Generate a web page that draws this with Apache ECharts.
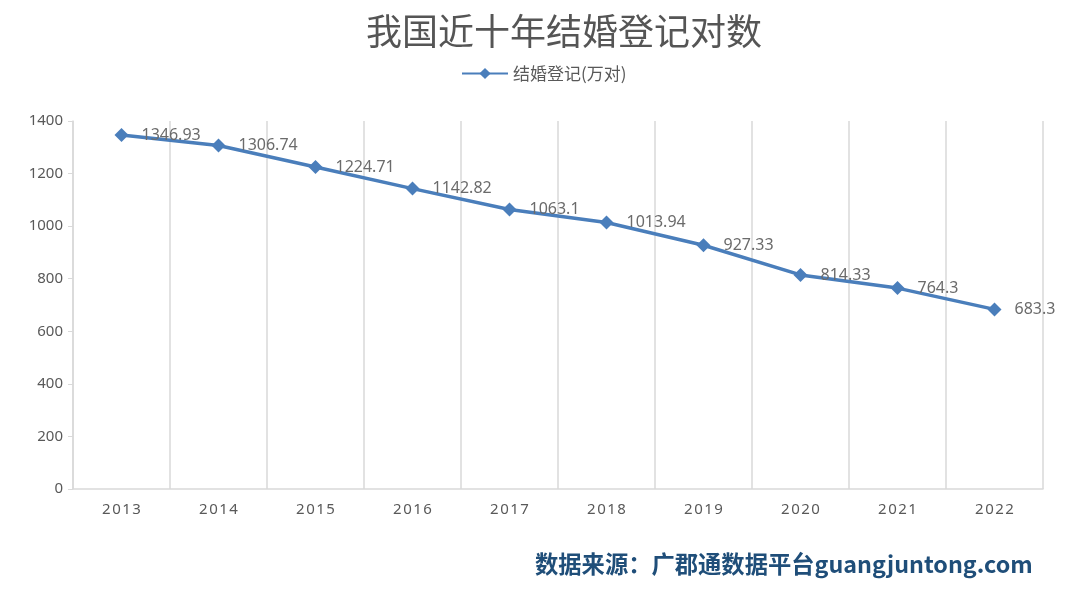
<!DOCTYPE html>
<html><head><meta charset="utf-8">
<script src="https://cdn.jsdelivr.net/npm/echarts@6/dist/echarts.min.js"></script>
<style>html,body{margin:0;padding:0;background:#fff}#c{width:1080px;height:596px}</style>
</head><body><div id="c"></div>
<script>
const categories = ['2013','2014','2015','2016','2017','2018','2019','2020','2021','2022'];
const marriages = [1346.93, 1306.74, 1224.71, 1142.82, 1063.1, 1013.94, 927.33, 814.33, 764.3, 683.3];
const labels = ['1346.93','1306.74','1224.71','1142.82','1063.1','1013.94','927.33','814.33','764.3','683.3'];
const seriesName = '结婚登记(万对)';
const chart = echarts.init(document.getElementById('c'));
chart.setOption({
  backgroundColor: '#fff',
  title: {
    text: '我国近十年结婚登记对数', left: 361, top: 8,
    textStyle: {fontFamily: 'Noto Sans CJK SC', fontSize: 36, fontWeight: 'normal', color: '#555555'}
  },
  legend: {
    top: 60, left: 456, data: [seriesName], itemWidth: 46, itemHeight: 14, itemGap: 6,
    textStyle: {fontFamily: 'Noto Sans CJK SC', fontSize: 17, color: '#595959'}
  },
  grid: {left: 73, right: 37, top: 121, bottom: 107, containLabel: false},
  xAxis: {
    type: 'category', data: categories, boundaryGap: true,
    axisLine: {lineStyle: {color: '#d9d9d9', width: 1.5}},
    axisTick: {show: false},
    splitLine: {show: true, lineStyle: {color: '#d9d9d9', width: 1.5}},
    axisLabel: {fontFamily: 'Noto Sans', fontSize: 15, color: '#595959', margin: 13,
      formatter: v => v.split('').join('\u200a')}
  },
  yAxis: {
    type: 'value', min: 0, max: 1400, interval: 200,
    axisLine: {show: true, lineStyle: {color: '#d9d9d9', width: 1.5}},
    axisTick: {show: true, length: 5, lineStyle: {color: '#d9d9d9'}},
    splitLine: {show: false},
    axisLabel: {fontFamily: 'Noto Sans', fontSize: 15, color: '#595959', margin: 10,
      formatter: v => String(v)}
  },
  series: [{
    name: seriesName, type: 'line', data: marriages,
    symbol: 'diamond', symbolSize: 14,
    lineStyle: {color: '#4a7ebb', width: 3.5},
    itemStyle: {color: '#4a7ebb'},
    label: {show: true, position: 'right', distance: 13,
      formatter: p => labels[p.dataIndex],
      fontFamily: 'Noto Sans', fontSize: 16, color: '#6b6b6b'}
  }],
  graphic: [{
    type: 'text', left: 535, top: 552,
    style: {text: '数据来源：广郡通数据平台guangjuntong.com', fill: '#1f4e79',
      font: 'bold 23.3px "Noto Sans CJK SC"'}
  }]
});
</script></body></html>
